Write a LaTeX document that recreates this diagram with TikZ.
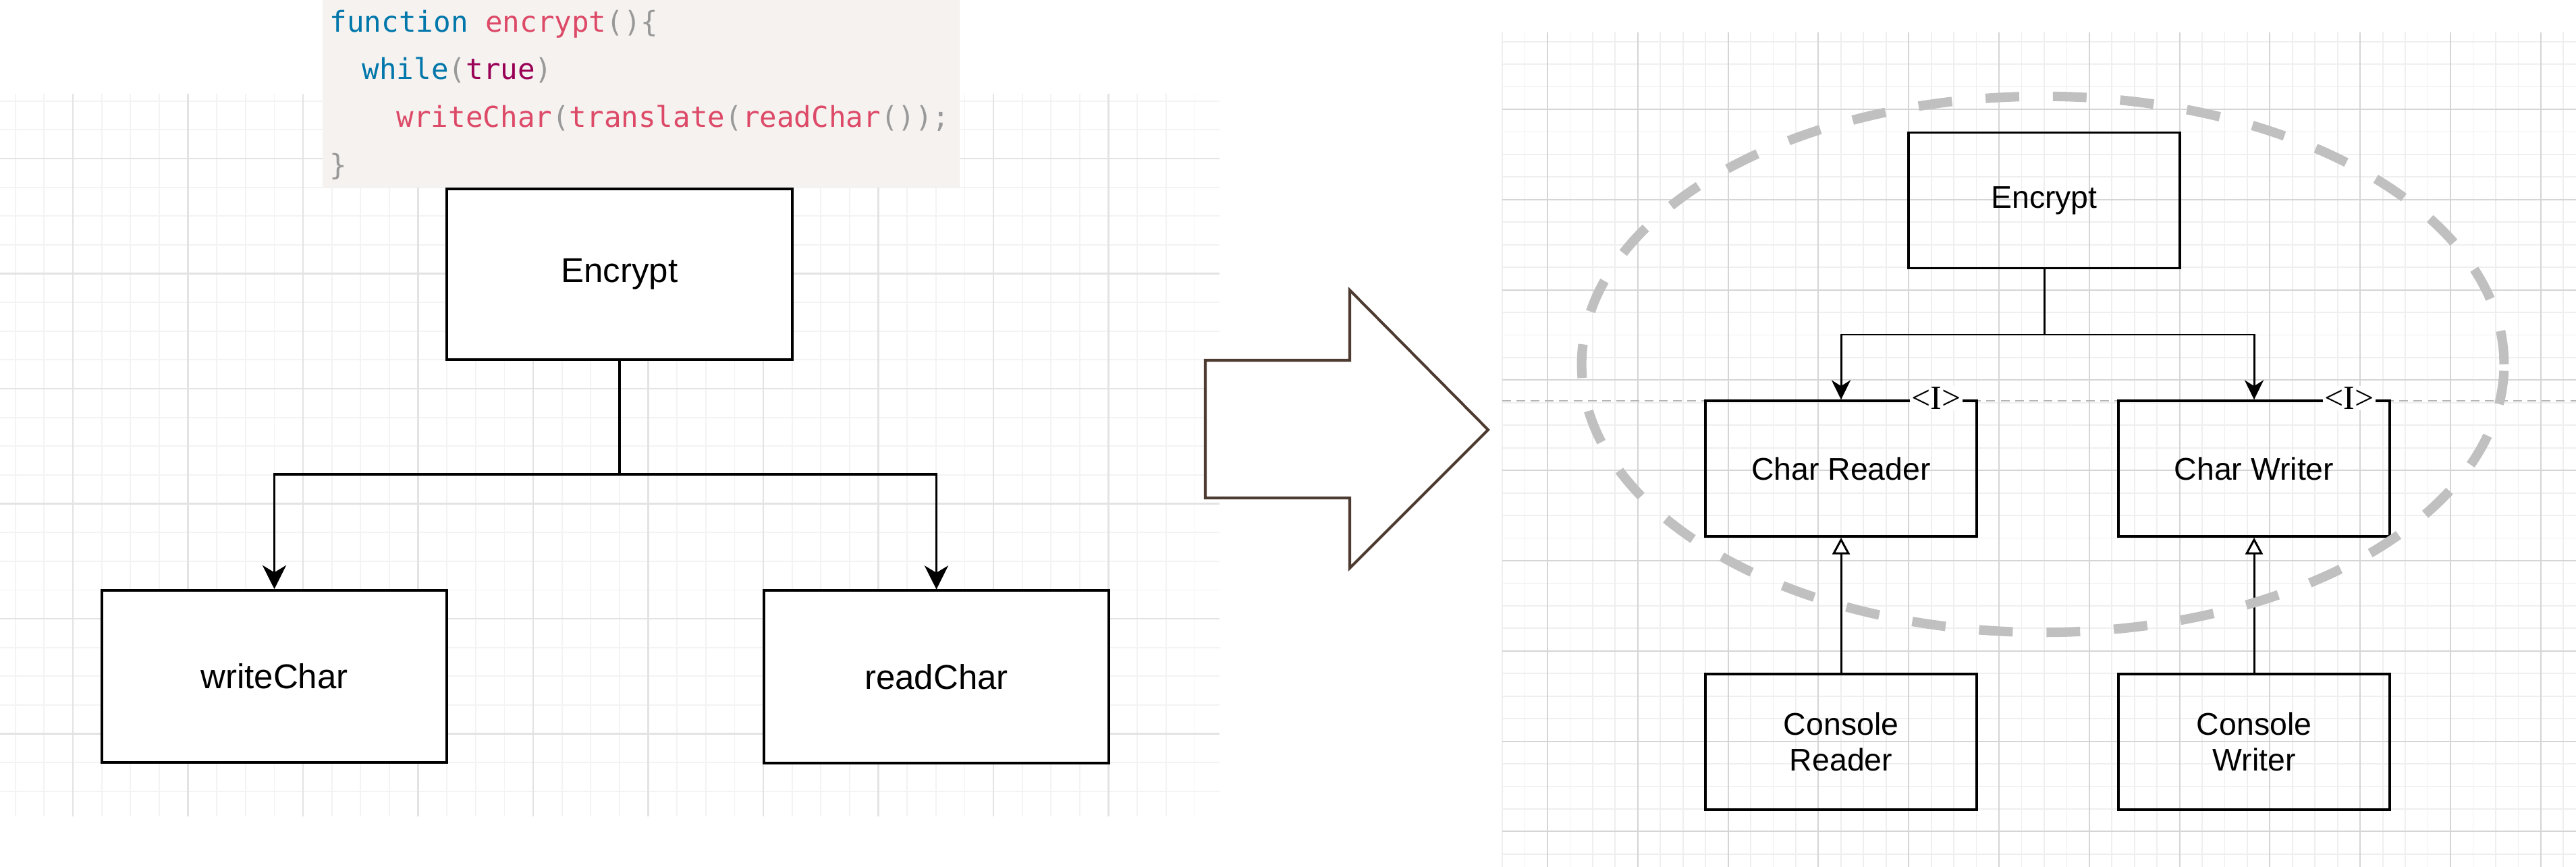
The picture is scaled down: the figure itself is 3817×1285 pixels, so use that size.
\documentclass[tikz,border=0pt]{standalone}
\usepackage{fontspec}
\setmainfont{Liberation Sans}
\newfontfamily\codefont{DejaVu Sans Mono}
\newfontfamily\serifI{Liberation Serif}
\usetikzlibrary{arrows.meta,shapes.geometric}
\definecolor{codebg}{HTML}{F5F2F0}
\definecolor{kwblue}{HTML}{0077AA}
\definecolor{fnred}{HTML}{DD4A68}
\definecolor{punct}{HTML}{999999}
\definecolor{boolc}{HTML}{990055}
\definecolor{arrowbrown}{HTML}{4D3B32}
\definecolor{lgridmin}{HTML}{F3F3F3}
\definecolor{lgridmaj}{HTML}{E3E3E3}
\definecolor{rgridmin}{HTML}{EFEFEF}
\definecolor{rgridmaj}{HTML}{D5D5D5}
\definecolor{ellgray}{HTML}{C0C0C0}
\definecolor{pagegray}{HTML}{B5B5B5}
\begin{document}
\begin{tikzpicture}[x=0.01cm, y=-0.01cm,
  lmin/.style={draw=lgridmin, line width=0.5pt},
  lmaj/.style={draw=lgridmaj, line width=0.6pt},
  rmin/.style={draw=rgridmin, line width=0.5pt},
  rmaj/.style={draw=rgridmaj, line width=0.55pt},
  codetxt/.style={anchor=base west, inner sep=0pt, font=\codefont\fontsize{12.1}{14}\selectfont},
  lbox/.style={draw=black, line width=1.1pt, fill=white, minimum width=5.11cm, minimum height=2.55cm, inner sep=0pt, font=\fontsize{14.5}{17}\selectfont},
  rbox/.style={draw=black, line width=0.95pt, minimum width=4.02cm, minimum height=2.01cm, inner sep=0pt, align=center, font=\fontsize{13.2}{15.1}\selectfont},
  lconn/.style={draw=black, line width=1pt},
  larrow/.style={lconn, -{Stealth[length=10pt, width=10pt, inset=3pt]}},
  rconn/.style={draw=black, line width=0.85pt},
  rarrow/.style={rconn, -{Stealth[length=8.2pt, width=8pt, inset=2.5pt]}},
  genarrow/.style={rconn, -{Triangle[fill=white, length=7.1pt, width=7.4pt, line width=0.85pt]}},
  ilabel/.style={fill=white, inner sep=0.6pt, font=\serifI\fontsize{14.2}{16}\selectfont},
]
\useasboundingbox (0,0) rectangle (3817,1285);
\fill[white] (0,0) rectangle (3817,1285);

% ---------- left grid ----------
\foreach \k in {-2,...,39} \draw[lmin] ({108+42.625*\k},139) -- ({108+42.625*\k},1210);
\foreach \k in {-2,...,22} \draw[lmin] (0,{235+42.625*\k}) -- (1807,{235+42.625*\k});
\foreach \k in {0,...,9} \draw[lmaj] ({108+170.5*\k},139) -- ({108+170.5*\k},1210);
\foreach \k in {0,...,5} \draw[lmaj] (0,{235+170.5*\k}) -- (1807,{235+170.5*\k});

% ---------- right grid ----------
\foreach \k in {-2,...,45} \draw[rmin] ({2293+33.45*\k},48) -- ({2293+33.45*\k},1285);
\foreach \k in {-3,...,33} \draw[rmin] (2226,{162+33.45*\k}) -- (3817,{162+33.45*\k});
\foreach \k in {0,...,11} \draw[rmaj] ({2293+133.8*\k},48) -- ({2293+133.8*\k},1285);
\foreach \k in {0,...,8} \draw[rmaj] (2226,{162+133.8*\k}) -- (3817,{162+133.8*\k});

% ---------- code block ----------
\fill[codebg] (478,0) rectangle (1422,278);
\node[codetxt] (c1) at (488,48) {\textcolor{kwblue}{function} \textcolor{fnred}{encrypt}\textcolor{punct}{()\{}};
\node[codetxt] (c2) at (536,118) {\textcolor{kwblue}{while}\textcolor{punct}{(}\textcolor{boolc}{true}\textcolor{punct}{)}};
\node[codetxt] (c3) at (587,189) {\textcolor{fnred}{writeChar}\textcolor{punct}{(}\textcolor{fnred}{translate}\textcolor{punct}{(}\textcolor{fnred}{readChar}\textcolor{punct}{());}};
\node[codetxt] (c4) at (488,259) {\textcolor{punct}{\}}};

% ---------- left diagram ----------
\node[lbox, minimum width=5.12cm, minimum height=2.53cm] (encL) at (918,406.5) {Encrypt};
\node[lbox] (wc) at (406.5,1002.5) {writeChar};
\node[lbox] (rc) at (1387.5,1003) {readChar};
\coordinate (lj) at (918,703);
\draw[lconn] (encL.south) -- (lj);
\draw[larrow] (lj) -| (wc.north);
\draw[larrow] (lj) -| (rc.north);

% ---------- big arrow ----------
\draw[arrowbrown, line width=1.15pt, fill=white, line join=miter]
  (1786,534) -- (2000,534) -- (2000,430) -- (2205,637) -- (2000,842) -- (2000,738) -- (1786,738) -- cycle;

% ---------- right diagram ----------
\coordinate (pbL) at (2226,594);
\coordinate (pbR) at (3817,594);
\draw[pagegray, line width=0.85pt, dash pattern=on 3.7pt off 2.3pt] (pbL) -- (pbR);

\node[rbox] (encR) at (3029,297) {Encrypt};
\node[rbox] (cr) at (2728,694.5) {Char Reader};
\node[rbox] (cw) at (3340,694.5) {Char Writer};
\node[rbox] (conr) at (2728,1099.5) {Console\\Reader};
\node[rbox] (conw) at (3340,1099.5) {Console\\Writer};

\coordinate (rj) at (3029,496);
\draw[rconn] (encR.south) -- (rj);
\draw[rarrow] (rj) -| (cr.north);
\draw[rarrow] (rj) -| (cw.north);
\draw[genarrow] (conr.north) -- (cr.south);
\draw[genarrow] (conw.north) -- (cw.south);

\node[ilabel] (ir) at (2869,590) {<I>};
\node[ilabel] (iw) at (3481,590) {<I>};

% ---------- dashed group ellipse ----------
\node[draw=ellgray, ellipse, line width=4pt, dash pattern=on 14.2pt off 14.2pt,
  minimum width=13.66cm, minimum height=7.94cm, inner sep=0pt] (grp) at (3027,540) {};
\end{tikzpicture}
\end{document}
